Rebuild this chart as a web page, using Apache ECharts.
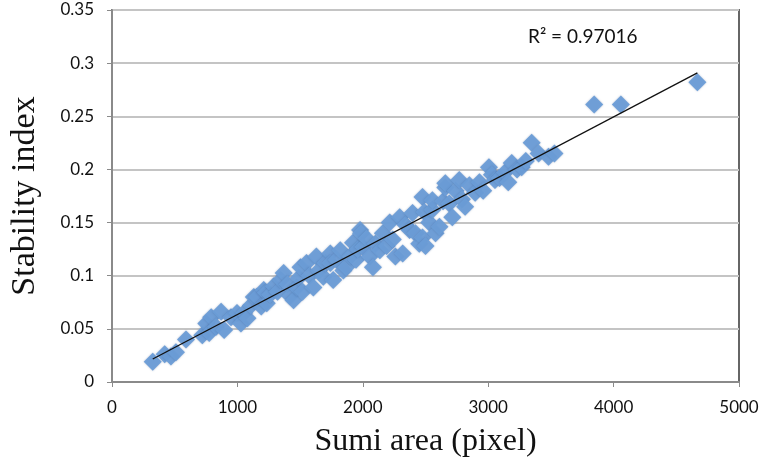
<!DOCTYPE html>
<html>
<head>
<meta charset="utf-8">
<script src="https://cdn.jsdelivr.net/npm/echarts@6/dist/echarts.min.js"></script>
<style>
  html, body { margin: 0; padding: 0; background: #fff; }
  #chart { width: 764px; height: 473px; }
</style>
</head>
<body>
<div id="chart"></div>
<script>
// Sumi area (pixel) vs stability index
const sumiArea = [
  325, 420, 470, 510, 590, 720, 752, 775, 791, 830,
  870, 894, 949, 997, 1028, 1052, 1080, 1108, 1131, 1155,
  1190, 1210, 1226, 1234, 1260, 1290, 1320, 1345, 1369, 1400,
  1420, 1448, 1472, 1490, 1503, 1520, 1551, 1575, 1606, 1630,
  1650, 1685, 1700, 1741, 1741, 1764, 1790, 1820, 1845, 1867,
  1899, 1922, 1946, 1960, 1978, 1986, 2002, 2030, 2055, 2081,
  2100, 2136, 2160, 2190, 2215, 2239, 2260, 2294, 2318, 2340,
  2373, 2397, 2420, 2450, 2476, 2476, 2490, 2500, 2530, 2555,
  2555, 2580, 2611, 2640, 2658, 2658, 2690, 2714, 2740, 2769,
  2790, 2816, 2850, 2896, 2930, 2960, 3006, 3030, 3054, 3090,
  3133, 3160, 3188, 3230, 3267, 3300, 3347, 3402, 3481, 3528,
  3845, 4058, 4668
]
const stability = [
  0.019, 0.026, 0.024, 0.028, 0.040, 0.044, 0.055, 0.046, 0.061, 0.052,
  0.066, 0.049, 0.061, 0.065, 0.055, 0.065, 0.060, 0.072, 0.080, 0.080,
  0.071, 0.0865, 0.084, 0.074, 0.082, 0.090, 0.085, 0.096, 0.1025, 0.092,
  0.081, 0.077, 0.089, 0.098, 0.108, 0.085, 0.112, 0.100, 0.089, 0.118,
  0.105, 0.099, 0.112, 0.121, 0.112, 0.096, 0.115, 0.124, 0.105, 0.108,
  0.118, 0.131, 0.115, 0.125, 0.143, 0.140, 0.127, 0.135, 0.118, 0.108,
  0.130, 0.124, 0.140, 0.128, 0.150, 0.134, 0.118, 0.155, 0.121, 0.148,
  0.143, 0.159, 0.140, 0.130, 0.136, 0.174, 0.160, 0.128, 0.150, 0.162,
  0.171, 0.140, 0.146, 0.170, 0.183, 0.187, 0.168, 0.155, 0.180, 0.190,
  0.172, 0.165, 0.185, 0.178, 0.188, 0.180, 0.202, 0.195, 0.190, 0.192,
  0.197, 0.188, 0.206, 0.200, 0.202, 0.208, 0.225, 0.215, 0.212, 0.215,
  0.261, 0.261, 0.282
]
const xTicks = [0, 1000, 2000, 3000, 4000, 5000]
const yTicks = [0, 0.05, 0.1, 0.15, 0.2, 0.25, 0.3, 0.35]
const rSquared = '0.97016'

const points = sumiArea.map((x, i) => [x, stability[i]])

// linear trendline (least squares) over the data range
let n = points.length, sx = 0, sy = 0, sxx = 0, sxy = 0
points.forEach(p => { sx += p[0]; sy += p[1]; sxx += p[0] * p[0]; sxy += p[0] * p[1] })
const slope = (n * sxy - sx * sy) / (n * sxx - sx * sx)
const icpt = (sy - slope * sx) / n
const xMin = Math.min(...sumiArea), xMax = Math.max(...sumiArea)
const trend = [[xMin, icpt + slope * xMin], [xMax, icpt + slope * xMax]]

const myChart = echarts.init(document.getElementById('chart'))
const tickFont = { fontFamily: 'Lato', fontSize: 17, color: '#111' }
const titleFont = { fontFamily: 'Liberation Serif', color: '#111' }
const option = {
  animation: false,
  grid: {
    left: 107, right: 25, top: 10, bottom: 91,
    show: true,
    borderColor: '#666',
    borderWidth: 2
  },
  xAxis: {
    type: 'value',
    min: xTicks[0],
    max: xTicks[xTicks.length - 1],
    interval: 1000,
    name: 'Sumi area (pixel)',
    nameLocation: 'middle',
    nameGap: 44,
    nameTextStyle: Object.assign({ fontSize: 32 }, titleFont),
    axisLine: { show: true, lineStyle: { color: '#8a8a8a', width: 2 } },
    axisTick: { show: true, inside: false, length: 5, lineStyle: { color: '#8a8a8a' } },
    axisLabel: Object.assign({ margin: 17, formatter: v => String(v) }, tickFont),
    splitLine: { show: false }
  },
  yAxis: {
    type: 'value',
    min: yTicks[0],
    max: yTicks[yTicks.length - 1],
    interval: 0.05,
    name: 'Stability index',
    nameLocation: 'middle',
    nameGap: 70,
    nameTextStyle: Object.assign({ fontSize: 34 }, titleFont),
    axisLine: { show: true, lineStyle: { color: '#8a8a8a', width: 2 } },
    axisTick: { show: true, inside: false, length: 5, lineStyle: { color: '#8a8a8a' } },
    axisLabel: Object.assign({ margin: 18 }, tickFont),
    splitLine: { show: true, lineStyle: { color: '#c4c4c4', width: 2 } }
  },
  graphic: [{
    type: 'text',
    left: 528,
    top: 27,
    style: { text: 'R\u00b2 = ' + rSquared, font: '19px Lato', fill: '#111' }
  }],
  series: [
    {
      type: 'scatter',
      data: points,
      symbol: 'diamond',
      symbolSize: 18,
      itemStyle: {
        color: '#6c9dd7',
        opacity: 0.95,
        shadowBlur: 2,
        shadowColor: 'rgba(60,90,140,0.4)'
      },
      z: 2
    },
    {
      type: 'line',
      data: trend,
      symbol: 'none',
      lineStyle: { color: '#111', width: 1.3 },
      z: 3
    }
  ]
}
myChart.setOption(option)
</script>
</body>
</html>
